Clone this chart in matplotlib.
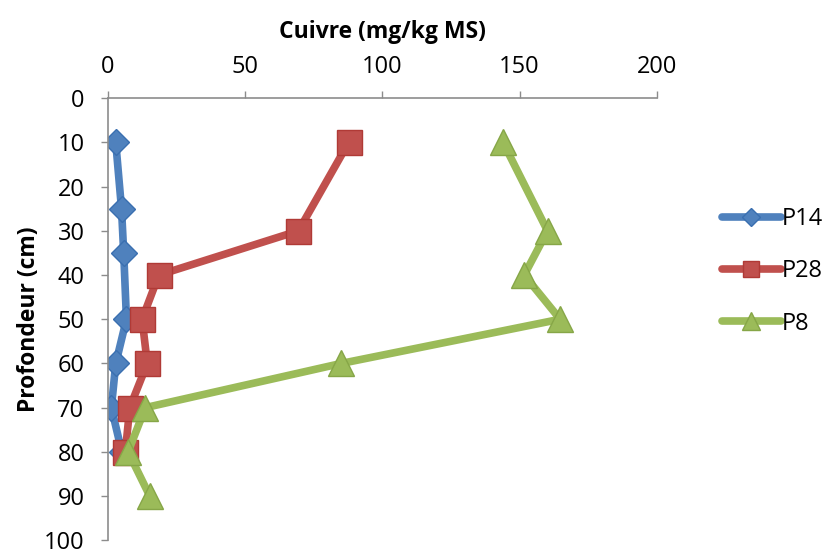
import matplotlib.pyplot as plt

# --- data ---
depth_p14 = [10, 25, 35, 50, 60, 70, 80]
cu_p14 = [2.8, 4.9, 5.7, 6.7, 2.8, 1.2, 5.0]

depth_p28 = [10, 30, 40, 50, 60, 70, 80]
cu_p28 = [87.7, 69.4, 18.5, 12.4, 14.3, 7.9, 6.3]

depth_p8 = [10, 30, 40, 50, 60, 70, 80, 90]
cu_p8 = [144, 160.2, 151.7, 164.8, 85, 13.6, 7.3, 15.2]

series = [
    ("P14", cu_p14, depth_p14, "#4F81BD", "#3A6FB0", "D", 13.5),
    ("P28", cu_p28, depth_p28, "#C0504D", "#B03A36", "s", 18),
    ("P8", cu_p8, depth_p8, "#9BBB59", "#86A647", "^", 19),
]

plt.rcParams['font.family'] = ['Open Sans', 'DejaVu Sans']

fig = plt.figure(figsize=(8.25, 5.49), dpi=100)
ax = fig.add_axes([0.131, 0.016, 0.665, 0.805])

for name, x, y, col, edge, mk, ms in series:
    ax.plot(x, y, color=col, lw=5.5, marker=mk, markersize=ms,
            markerfacecolor=col, markeredgecolor=edge, markeredgewidth=1,
            solid_joinstyle='round', solid_capstyle='round', label=name)

ax.set_xlim(0, 200)
ax.set_ylim(100, 0)
ax.set_xticks([0, 50, 100, 150, 200])
ax.set_yticks(range(0, 101, 10))

ax.xaxis.set_ticks_position('top')
ax.xaxis.set_label_position('top')
ax.tick_params(axis='both', colors='#8C8C8C', labelcolor='black',
               labelsize=17, length=5, width=1)
ax.tick_params(axis='x', pad=9)
ax.tick_params(axis='y', pad=12)

for side in ['right', 'bottom']:
    ax.spines[side].set_visible(False)
for side in ['top', 'left']:
    ax.spines[side].set_color('#8C8C8C')
    ax.spines[side].set_linewidth(1.2)

ax.set_xlabel("Cuivre (mg/kg MS)", fontsize=16.5, fontweight='bold', labelpad=12)
ax.set_ylabel("Profondeur (cm)", fontsize=16.5, fontweight='bold', labelpad=2)

fig.legend(loc='center left', bbox_to_anchor=(0.875, 0.506), frameon=False,
           fontsize=17, handlelength=2.5, handletextpad=0.05, labelspacing=1.2,
           borderpad=0, borderaxespad=0, markerscale=0.65)

fig.savefig("out.png", dpi=100)
